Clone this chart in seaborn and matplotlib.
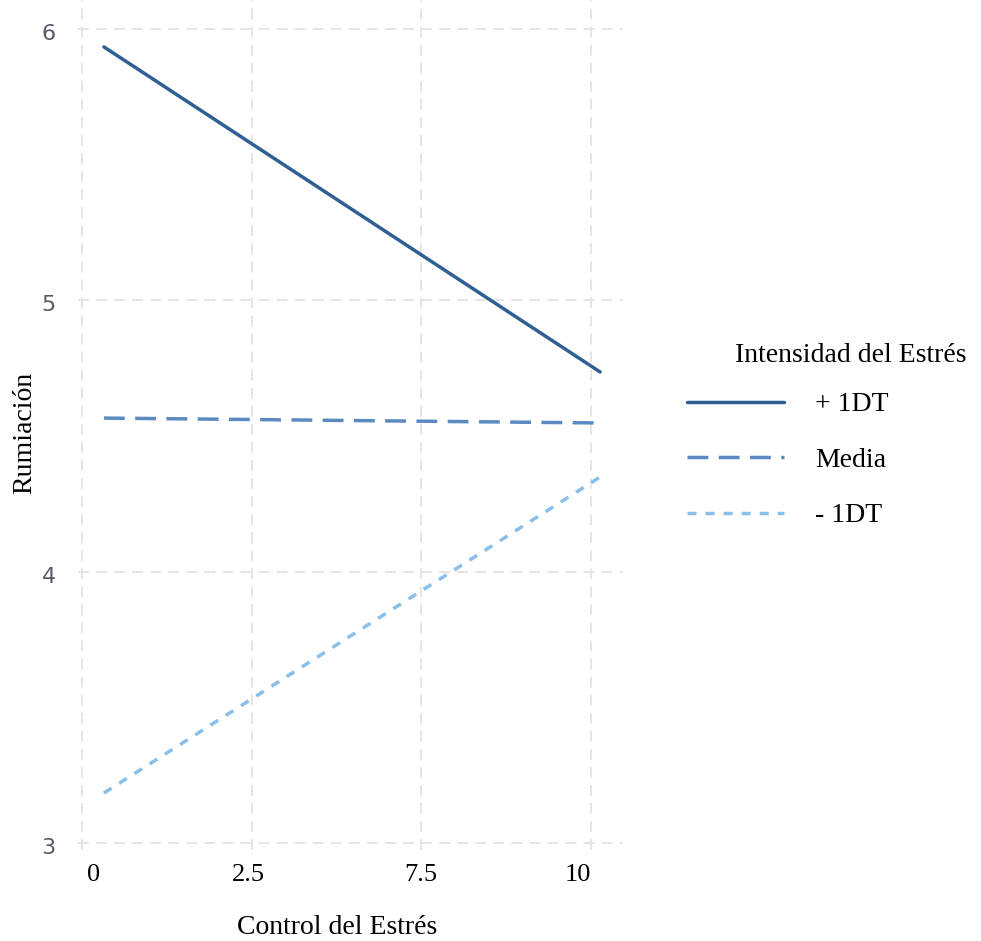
import numpy as np
import pandas as pd
import seaborn as sns
import matplotlib.pyplot as plt
from matplotlib.transforms import ScaledTranslation

# data
control = [0.43, 10.18]
alto = [5.934, 4.736]      # + 1DT
media = [4.566, 4.548]     # Media
bajo = [3.184, 4.349]      # - 1DT
grupos = ['+ 1DT', 'Media', '- 1DT']
x_ticks = [0, 10 / 3, 20 / 3, 10]
x_tick_labels = ['0', '2.5', '7.5', '10']
y_ticks = [3, 4, 5, 6]

df = pd.DataFrame({
    'Control': control * 3,
    'Rumiacion': alto + media + bajo,
    'Grupo': [g for g in grupos for _ in control],
})

sns.set_style('white')
plt.rcParams['font.family'] = ['Liberation Serif', 'DejaVu Serif']
plt.rcParams['text.color'] = 'black'
plt.rcParams['axes.labelcolor'] = 'black'

fig = plt.figure(figsize=(9.81, 9.41), dpi=100)
ax_w = (623 - 78) / 981
ax_h = 850 / 941
ax = fig.add_axes([78 / 981, 91 / 941, ax_w, ax_h])

palette = {'+ 1DT': '#2f5f93', 'Media': '#5b8ac3', '- 1DT': '#88bfeb'}
dashes = {'+ 1DT': '', 'Media': (6, 3), '- 1DT': (2.6, 2.6)}
sns.lineplot(data=df, x='Control', y='Rumiacion', hue='Grupo', style='Grupo',
             hue_order=grupos, style_order=grupos, palette=palette, dashes=dashes,
             linewidth=2.5, ax=ax, legend=False)

ax.set_xlim(-0.08, 10.63)
ax.set_ylim(2.974, 6.107)
ax.set_xticks(x_ticks)
ax.set_xticklabels(x_tick_labels, fontsize=19, color='black')
ax.set_yticks(y_ticks)
ax.set_yticklabels([str(v) for v in y_ticks], fontsize=16, color='#555a66',
                   family=['DejaVu Sans'])
ax.tick_params(axis='x', length=0, pad=10)
ax.tick_params(axis='y', length=0, pad=16)
for lbl, dx in zip(ax.get_xticklabels(), [11, -3, -1, -13]):
    lbl.set_transform(lbl.get_transform() + ScaledTranslation(dx / 100, 0, fig.dpi_scale_trans))
for lbl in ax.get_yticklabels():
    lbl.set_transform(lbl.get_transform() + ScaledTranslation(0, -0.03, fig.dpi_scale_trans))

ax.grid(True, color='#e3e3e3', linestyle=(0, (6, 4)), linewidth=1.3)
for s in ax.spines.values():
    s.set_visible(False)

ax.set_xlabel('Control del Estrés', fontsize=20)
ax.set_ylabel('Rumiación', fontsize=20)
ax.xaxis.set_label_coords((337 - 78) / 981 / ax_w, -(927 - 850) / 941 / ax_h)
ax.yaxis.set_label_coords(-(78 - 25) / 981 / ax_w, (850 - 433) / 941 / ax_h)
ax.xaxis.label.set_va('center')
ax.yaxis.label.set_va('center')

handles = [plt.Line2D([], [], color=palette[g], linewidth=2.5,
                      linestyle='-' if g == '+ 1DT' else (0, dashes[g])) for g in grupos]
fig.legend(handles, grupos, loc='upper left', bbox_to_anchor=(662 / 981, 1 - 367 / 941),
           frameon=False, fontsize=20, handlelength=3.5, handletextpad=1.1,
           labelspacing=1.08)
fig.text(735 / 981, 1 - 355 / 941, 'Intensidad del Estrés', fontsize=20, va='center')

plt.savefig('out.png', dpi=100)
